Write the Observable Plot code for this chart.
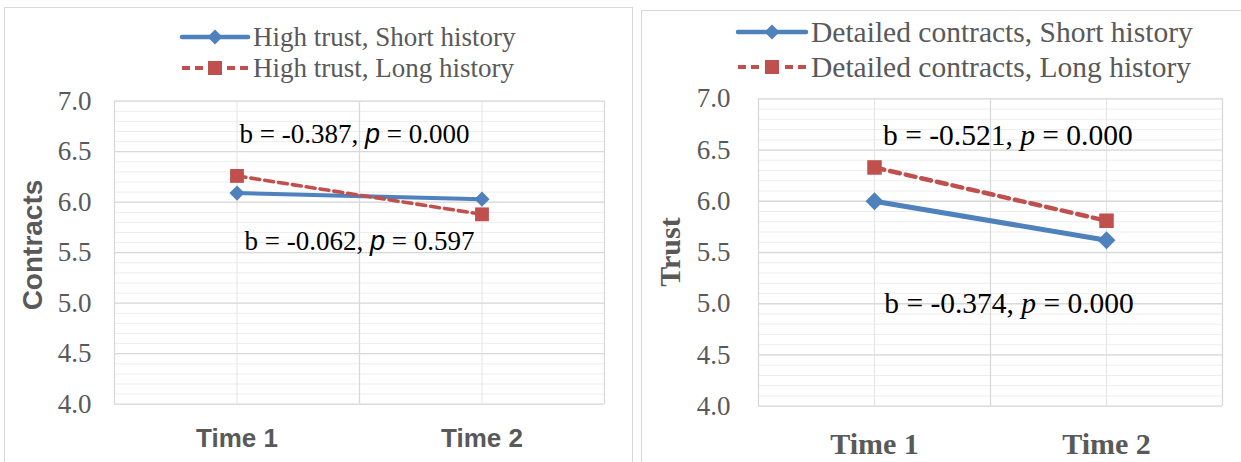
<!DOCTYPE html>
<html>
<head>
<meta charset="utf-8">
<script src="https://cdn.jsdelivr.net/npm/d3@7"></script>
<script src="https://cdn.jsdelivr.net/npm/@observablehq/plot@0.6"></script>
<style>
  html, body { margin: 0; padding: 0; background: #fff; }
  #root { position: relative; width: 1241px; height: 462px; overflow: hidden; background: #fff; }
  .panel { position: absolute; border: 1.5px solid #d9d9d9; box-sizing: border-box; }
  .plotwrap { position: absolute; top: 0; }
  .plotwrap svg { display: block; max-width: none !important; }
  .ytitle { position: absolute; transform: translate(-50%, -50%) rotate(-90deg); white-space: nowrap; color: #595959; font-weight: bold; }
  #legend { position: absolute; left: 0; top: 0; pointer-events: none; }
</style>
</head>
<body>
<div id="root">
  <div class="panel" style="left:4px; top:7px; width:629px; height:480px;"></div>
  <div class="panel" style="left:641px; top:10px; width:610px; height:480px;"></div>
  <div class="plotwrap" id="left" style="left:0px;"></div>
  <div class="plotwrap" id="right" style="left:641px;"></div>
  <div class="ytitle" style="left:33px; top:245px; font-family:'Liberation Sans', Arial, sans-serif; font-size:28px;">Contracts</div>
  <div class="ytitle" style="left:670px; top:252px; font-family:'Liberation Serif', 'Times New Roman', serif; font-size:30px;">Trust</div>
  <svg id="legend" width="1241" height="462"></svg>
</div>
<script>
// ---- data ----
const times = ["Time 1", "Time 2"];
const yTicks = [4.0, 4.5, 5.0, 5.5, 6.0, 6.5, 7.0];

const leftSeries = ["High trust, Short history", "High trust, Long history"];
const contractsShort = [6.09, 6.03];
const contractsLong = [6.26, 5.88];
const leftNotes = ["b = -0.387, p = 0.000", "b = -0.062, p = 0.597"];

const rightSeries = ["Detailed contracts, Short history", "Detailed contracts, Long history"];
const trustShort = [6.00, 5.62];
const trustLong = [6.33, 5.81];
const rightNotes = ["b = -0.521, p = 0.000", "b = -0.374, p = 0.000"];

// annotation anchors, in data units (x: 1 = Time 1, 2 = Time 2)
const leftNoteAt = {x: [1.48, 1.50], y: [6.67, 5.61]};
const rightNoteAt = {x: [1.575, 1.58], y: [6.64, 5.0]};

const BLUE = "#4F81BD", RED = "#C0504D", GRAY = "#595959";
const SERIF = "'Liberation Serif', 'Times New Roman', serif";
const SANS = "'Liberation Sans', Arial, sans-serif";

const minorTicks = d3.range(40, 71).map(v => v / 10);

function chart(cfg) {
  const idx = times.map((_, i) => i);
  const xi = i => i + 1;
  const svg = Plot.plot({
    width: cfg.width, height: 462,
    marginLeft: cfg.ml, marginRight: cfg.mr, marginTop: cfg.mt, marginBottom: cfg.mb,
    style: {background: "transparent", overflow: "visible"},
    x: {type: "linear", domain: [0.5, 2.5]},
    y: {domain: [4, 7]},
    marks: [
      Plot.ruleY(minorTicks, {stroke: "#ededed", strokeWidth: 1}),
      Plot.ruleX([1, 2], {stroke: "#e4e4e4", strokeWidth: 1}),
      Plot.ruleY(yTicks, {stroke: "#d9d9d9", strokeWidth: 1.3}),
      Plot.ruleX([0.5, 1.5, 2.5], {stroke: "#d9d9d9", strokeWidth: 1.3}),
      Plot.axisY({ticks: yTicks, tickSize: 0, tickPadding: cfg.yPad, tickFormat: d3.format(".1f"),
        fontSize: 27, color: GRAY, label: null}),
      Plot.axisX({ticks: [1, 2], tickSize: 0, tickPadding: cfg.xPad, tickFormat: d => times[d - 1],
        fontSize: cfg.xFontSize, fontWeight: "bold", color: GRAY, label: null}),
      Plot.line(idx, {x: xi, y: i => cfg.short[i], stroke: BLUE, strokeWidth: cfg.lw, strokeLinecap: "round"}),
      Plot.line(idx, {x: xi, y: i => cfg.long[i], stroke: RED, strokeWidth: cfg.lw * 0.9, strokeDasharray: cfg.dash}),
      Plot.dot(idx, {x: xi, y: i => cfg.short[i], symbol: "diamond2", r: cfg.dr, fill: BLUE}),
      Plot.dot(idx, {x: xi, y: i => cfg.long[i], symbol: "square", r: cfg.sr, fill: RED}),
      Plot.text(cfg.notes, {x: (d, i) => cfg.noteAt.x[i], y: (d, i) => cfg.noteAt.y[i], text: d => d,
        fontSize: cfg.noteSize, fill: "#000", textAnchor: "middle", lineAnchor: "middle"})
    ]
  });
  // fonts (inline styles so nothing overrides them)
  svg.querySelectorAll('g[aria-label="y-axis tick label"]').forEach(g => g.style.fontFamily = SERIF);
  svg.querySelectorAll('g[aria-label="x-axis tick label"]').forEach(g => g.style.fontFamily = cfg.xFont);
  svg.querySelectorAll('g[aria-label="text"]').forEach(g => g.style.fontFamily = SERIF);
  // italicise the "p" in the annotations
  svg.querySelectorAll("text").forEach(t => {
    const s = t.textContent;
    const k = s.indexOf(", p =");
    if (s.startsWith("b =") && k > 0) {
      t.style.fontFamily = SERIF;
      t.textContent = "";
      t.appendChild(document.createTextNode(s.slice(0, k + 2)));
      const ts = document.createElementNS("http://www.w3.org/2000/svg", "tspan");
      ts.style.fontStyle = "italic";
      ts.style.fontFamily = cfg.pFont;
      ts.textContent = "p";
      t.appendChild(ts);
      t.appendChild(document.createTextNode(s.slice(k + 3)));
    }
  });
  return svg;
}

document.getElementById("left").appendChild(chart({
  width: 640, ml: 114, mr: 36, mt: 100.7, mb: 58.3, yPad: 23, xPad: 24,
  xFont: SANS, xFontSize: 26, short: contractsShort, long: contractsLong,
  lw: 4, dash: "9,5", dr: 6.8, sr: 7.8, notes: leftNotes, noteAt: leftNoteAt, noteSize: 27, pFont: SANS
}));
document.getElementById("right").appendChild(chart({
  width: 600, ml: 117, mr: 19, mt: 98.3, mb: 56.3, yPad: 28, xPad: 26,
  xFont: SERIF, xFontSize: 30, short: trustShort, long: trustLong,
  lw: 5, dash: "10,6", dr: 8.1, sr: 8.2, notes: rightNotes, noteAt: rightNoteAt, noteSize: 29.5, pFont: SERIF
}));

// ---- legends ----
const lg = d3.select("#legend");
function legendRow(x0, x1, y, label, kind, fontSize) {
  const cx = (x0 + x1) / 2;
  if (kind === "short") {
    lg.append("line").attr("x1", x0).attr("x2", x1).attr("y1", y).attr("y2", y)
      .attr("stroke", BLUE).attr("stroke-width", 4.5).attr("stroke-linecap", "round");
    const h = 7.5;
    lg.append("path").attr("d", `M${cx},${y - h}L${cx + h},${y}L${cx},${y + h}L${cx - h},${y}Z`).attr("fill", BLUE);
  } else {
    lg.append("line").attr("x1", x0).attr("x2", cx - 8).attr("y1", y).attr("y2", y)
      .attr("stroke", RED).attr("stroke-width", 4).attr("stroke-dasharray", "8,5");
    lg.append("line").attr("x1", x1).attr("x2", cx + 8).attr("y1", y).attr("y2", y)
      .attr("stroke", RED).attr("stroke-width", 4).attr("stroke-dasharray", "8,5");
    lg.append("rect").attr("x", cx - 7).attr("y", y - 7).attr("width", 14).attr("height", 14).attr("fill", RED);
  }
  lg.append("text").attr("x", x1 + 5).attr("y", y + fontSize * 0.33).text(label)
    .attr("font-family", SERIF).attr("font-size", fontSize).attr("fill", GRAY);
}
legendRow(182, 248, 37, leftSeries[0], "short", 27);
legendRow(182, 248, 68, leftSeries[1], "long", 27);
legendRow(738, 806, 32, rightSeries[0], "short", 29.5);
legendRow(738, 806, 67, rightSeries[1], "long", 29.5);
</script>
</body>
</html>
